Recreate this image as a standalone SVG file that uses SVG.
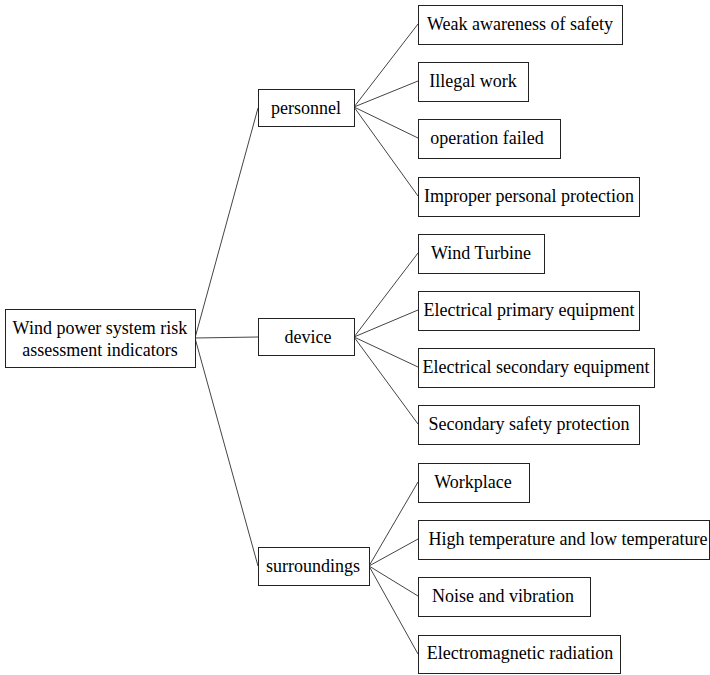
<svg xmlns="http://www.w3.org/2000/svg" width="710" height="675" viewBox="0 0 710 675">
<style>
rect{fill:#fff;stroke:#222;stroke-width:1}
text{font-family:"Liberation Serif","Times New Roman",serif;font-size:18px;fill:#000;text-anchor:middle}
.c line{stroke:#444;stroke-width:1}
</style>
<rect x="0" y="0" width="710" height="675" style="stroke:none"/>
<g class="c" id="connectors">
<line x1="195" y1="338" x2="258" y2="108"/>
<line x1="195" y1="338" x2="258" y2="337"/>
<line x1="195" y1="338" x2="258" y2="566"/>
<line x1="354" y1="107" x2="418" y2="24"/>
<line x1="354" y1="107" x2="418" y2="81"/>
<line x1="354" y1="107" x2="418" y2="138"/>
<line x1="354" y1="107" x2="418" y2="196"/>
<line x1="354" y1="337" x2="418" y2="253"/>
<line x1="354" y1="337" x2="418" y2="310"/>
<line x1="354" y1="337" x2="418" y2="367"/>
<line x1="354" y1="337" x2="418" y2="424"/>
<line x1="369" y1="566" x2="418" y2="482"/>
<line x1="369" y1="566" x2="418" y2="539"/>
<line x1="369" y1="566" x2="418" y2="596"/>
<line x1="369" y1="566" x2="418" y2="654"/>
</g>
<g id="root"><rect x="5.5" y="309.5" width="190" height="58"/><text x="100" y="334">Wind power system risk</text><text x="100" y="356">assessment indicators</text></g>
<g id="personnel"><rect x="258.5" y="89.5" width="96" height="37"/><text x="306" y="114">personnel</text></g>
<g id="device"><rect x="258.5" y="318.5" width="96" height="37"/><text x="308" y="343">device</text></g>
<g id="surroundings"><rect x="258.5" y="547.5" width="111" height="38"/><text x="313" y="572">surroundings</text></g>
<g id="p1"><rect x="418.5" y="5.5" width="204" height="39"/><text x="520" y="30">Weak awareness of safety</text></g>
<g id="p2"><rect x="418.5" y="62.5" width="110" height="39"/><text x="473" y="87">Illegal work</text></g>
<g id="p3"><rect x="418.5" y="119.5" width="142" height="39"/><text x="487" y="144">operation failed</text></g>
<g id="p4"><rect x="418.5" y="177.5" width="221" height="39"/><text x="529" y="202">Improper personal protection</text></g>
<g id="d1"><rect x="418.5" y="234.5" width="126" height="39"/><text x="481" y="259">Wind Turbine</text></g>
<g id="d2"><rect x="418.5" y="291.5" width="221" height="39"/><text x="529" y="316">Electrical primary equipment</text></g>
<g id="d3"><rect x="418.5" y="348.5" width="236" height="39"/><text x="536" y="373">Electrical secondary equipment</text></g>
<g id="d4"><rect x="418.5" y="405.5" width="221" height="39"/><text x="529" y="430">Secondary safety protection</text></g>
<g id="s1"><rect x="418.5" y="463.5" width="111" height="39"/><text x="473" y="488">Workplace</text></g>
<g id="s2"><rect x="418.5" y="520.5" width="291" height="39"/><text x="568" y="545">High temperature and low temperature</text></g>
<g id="s3"><rect x="418.5" y="577.5" width="172" height="39"/><text x="503" y="602">Noise and vibration</text></g>
<g id="s4"><rect x="418.5" y="635.5" width="202" height="38"/><text x="520" y="659">Electromagnetic radiation</text></g>
</svg>
